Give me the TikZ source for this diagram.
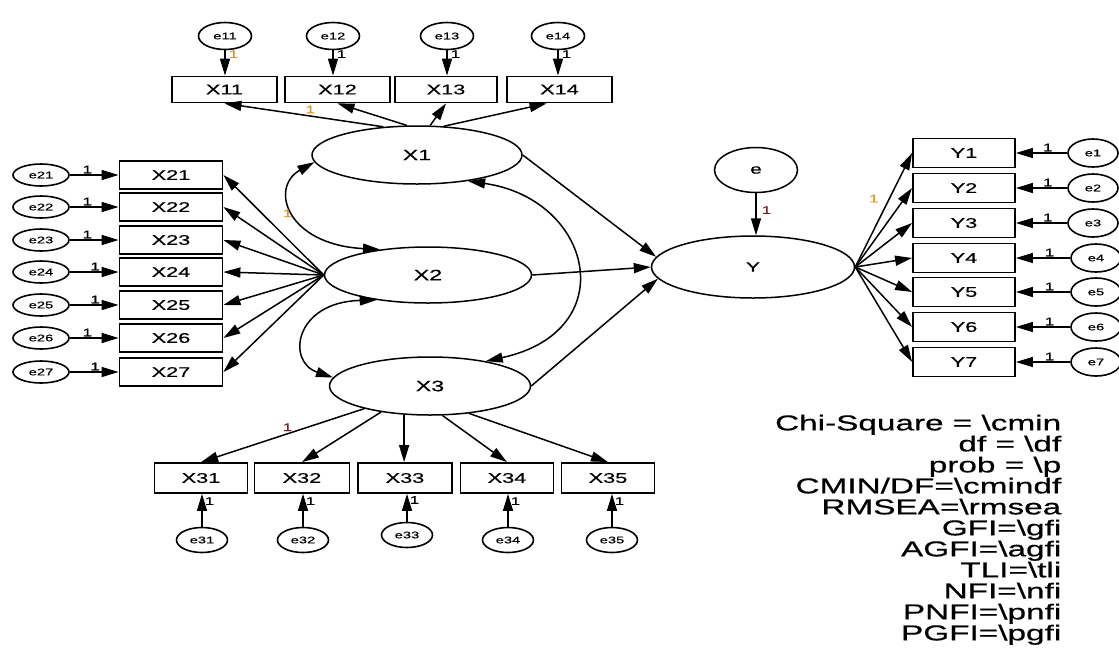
\documentclass[tikz,border=0pt]{standalone}
\usepackage{fontspec}
\setmainfont{Liberation Sans}[FakeStretch=1.55,FakeBold=0.6]
\usetikzlibrary{shapes.geometric,arrows.meta}

\definecolor{oneorange}{HTML}{E0901E}
\definecolor{onemaroon}{HTML}{7A1E2E}

\begin{document}
\begin{tikzpicture}[x=1pt,y=-1pt,
  >={Triangle[length=17pt,width=10pt]},
  line width=1.5pt,
  obs/.style={draw,rectangle,line width=1.8pt,minimum width=103pt,minimum height=28pt,
    inner sep=0pt,font=\fontsize{14}{14}\selectfont},
  lat/.style={draw,ellipse,line width=1.5pt,inner sep=0pt,font=\fontsize{15}{15}\selectfont},
  err/.style={draw,ellipse,line width=1.6pt,inner sep=0pt,font=\fontsize{9.5}{9.5}\selectfont},
  one/.style={inner sep=1pt,font=\fontsize{11}{11}\selectfont},
]
\useasboundingbox (0,0) rectangle (1119,649);

% ---------- latent variables ----------
\node[lat,minimum width=210pt,minimum height=58pt] (X1) at (417,155) {X1};
\node[lat,minimum width=207pt,minimum height=56pt] (X2) at (428,275) {X2};
\node[lat,minimum width=201pt,minimum height=58pt] (X3) at (430,386) {X3};
\node[lat,minimum width=203pt,minimum height=62pt,font=\fontsize{13.5}{13.5}\selectfont] (Y) at (753,267) {Y};
\node[lat,minimum width=83pt,minimum height=45pt,font=\fontsize{13.5}{13.5}\selectfont] (e) at (756,170) {e};

% ---------- indicators of X1 ----------
\node[obs,minimum width=105pt,minimum height=26pt] (X11) at (224.5,89.5) {X11};
\node[obs,minimum width=105pt,minimum height=26pt] (X12) at (337.5,89.5) {X12};
\node[obs,minimum width=102pt,minimum height=26pt] (X13) at (446,89.5) {X13};
\node[obs,minimum width=105pt,minimum height=26pt] (X14) at (559.5,89.5) {X14};
\node[err,minimum width=53pt,minimum height=27pt] (e11) at (225,36) {e11};
\node[err,minimum width=53pt,minimum height=27pt] (e12) at (333,36) {e12};
\node[err,minimum width=53pt,minimum height=27pt] (e13) at (447,36) {e13};
\node[err,minimum width=53pt,minimum height=27pt] (e14) at (558,36) {e14};

\draw[->] (e11.south) -- (e11.south |- X11.north) node[one,pos=0.15,right=2pt,text=oneorange] {1};
\draw[->] (e12.south) -- (e12.south |- X12.north) node[one,pos=0.15,right=2pt] {1};
\draw[->] (e13.south) -- (e13.south |- X13.north) node[one,pos=0.15,right=2pt] {1};
\draw[->] (e14.south) -- (e14.south |- X14.north) node[one,pos=0.15,right=2pt] {1};

\draw[->] (X1.140) -- (X11.south) node[one,pos=0.46,above=1pt,text=oneorange] {1};
\draw[->] (X1.109) -- (X12.south);
\draw[->] (X1.66) -- (X13.south);
\draw[->] (X1.47) -- (X14.227);

% ---------- indicators of X2 ----------
\foreach \k/\yy in {1/175,2/207,3/240,4/272,5/305,6/338,7/372}{
  \node[obs] (X2\k) at (171,\yy) {X2\k};
  \node[err,minimum width=56pt,minimum height=22pt] (e2\k) at (41,\yy) {e2\k};
  \draw[->] (X2.west) -- (X2\k.east);
}
\foreach \k/\p in {1/0.36,2/0.36,3/0.36,4/0.52,5/0.52,6/0.36,7/0.52}{
  \draw[->] (e2\k) -- (X2\k) node[one,pos=\p,above] {1};
}

% ---------- indicators of X3 ----------
\node[obs,minimum width=93pt,minimum height=30pt] (X31) at (201,478) {X31};
\node[obs,minimum width=95pt,minimum height=30pt] (X32) at (302,478) {X32};
\node[obs,minimum width=94pt,minimum height=30pt] (X33) at (405,478) {X33};
\node[obs,minimum width=93pt,minimum height=30pt] (X34) at (507,478) {X34};
\node[obs,minimum width=93pt,minimum height=30pt] (X35) at (608,478) {X35};
\node[err,minimum width=51pt,minimum height=25pt] (e31) at (202,540) {e31};
\node[err,minimum width=51pt,minimum height=25pt] (e32) at (303,540) {e32};
\node[err,minimum width=51pt,minimum height=25pt] (e33) at (407,535) {e33};
\node[err,minimum width=51pt,minimum height=25pt] (e34) at (508,540) {e34};
\node[err,minimum width=51pt,minimum height=25pt] (e35) at (612,540) {e35};

\foreach \k in {1,...,5}{
  \draw[->] (e3\k.north) -- (e3\k.north |- X3\k.south) node[one,pos=0.78,right=1pt] {1};
}
\draw[->] (X3.199) -- (X31.north) node[one,pos=0.47,above=1pt,text=onemaroon] {1};
\draw[->] (X3.208) -- (X32.north);
\draw[->] (X3.228) -- (X3.228 |- X33.north);
\draw[->] (X3.293) -- (X34.north);
\draw[->] (X3.325) -- (X35.north);

% ---------- indicators of Y ----------
\foreach \k/\yy/\ex in {1/153/1093,2/188/1093,3/223/1093,4/258/1096,5/292/1096,6/327/1096,7/362/1096}{
  \node[obs,minimum width=102pt,minimum height=29pt] (Y\k) at (964,\yy) {Y\k};
  \node[err,minimum width=50pt,minimum height=28pt] (e\k) at (\ex,\yy) {e\k};
  \draw[->] (e\k) -- (Y\k) node[one,pos=0.38,above] {1};
}
\draw[->] (Y.east) -- (Y1.west) node[one,pos=0.6,left=9pt,text=oneorange] {1};
\foreach \k in {2,...,7}{
  \draw[->] (Y.east) -- (Y\k.west);
}

% ---------- structural paths ----------
\draw[->] (e.south) -- (e.south |- Y.north) node[one,pos=0.4,right=4pt,text=onemaroon] {1};
\draw[->] (X1.east) -- (Y.174);
\draw[->] (X2.east) -- (Y.west);
\draw[->] (X3.east) -- (Y.187);

% ---------- covariances ----------
\draw[<->] (X1.184) .. controls +(-45,25) and +(-94,-5) .. (X2.152)
  node[one,pos=0.5,left=1pt,text=oneorange] {1};
\draw[<->] (X2.206) .. controls +(-82,2) and +(-47,-16) .. (X3.175);
\draw[<->] (X1.333) .. controls +(125,18) and +(138,-30) .. (X3.24.5);

% ---------- fit statistics ----------
\node[anchor=north east,align=right,inner sep=0pt,font=\fontsize{21.5}{21}\selectfont] (stats) at (1062,414)
 {Chi-Square = \textbackslash cmin\\
  df = \textbackslash df\\
  prob = \textbackslash p\\
  CMIN/DF=\textbackslash cmindf\\
  RMSEA=\textbackslash rmsea\\
  GFI=\textbackslash gfi\\
  AGFI=\textbackslash agfi\\
  TLI=\textbackslash tli\\
  NFI=\textbackslash nfi\\
  PNFI=\textbackslash pnfi\\
  PGFI=\textbackslash pgfi};
\end{tikzpicture}
\end{document}
